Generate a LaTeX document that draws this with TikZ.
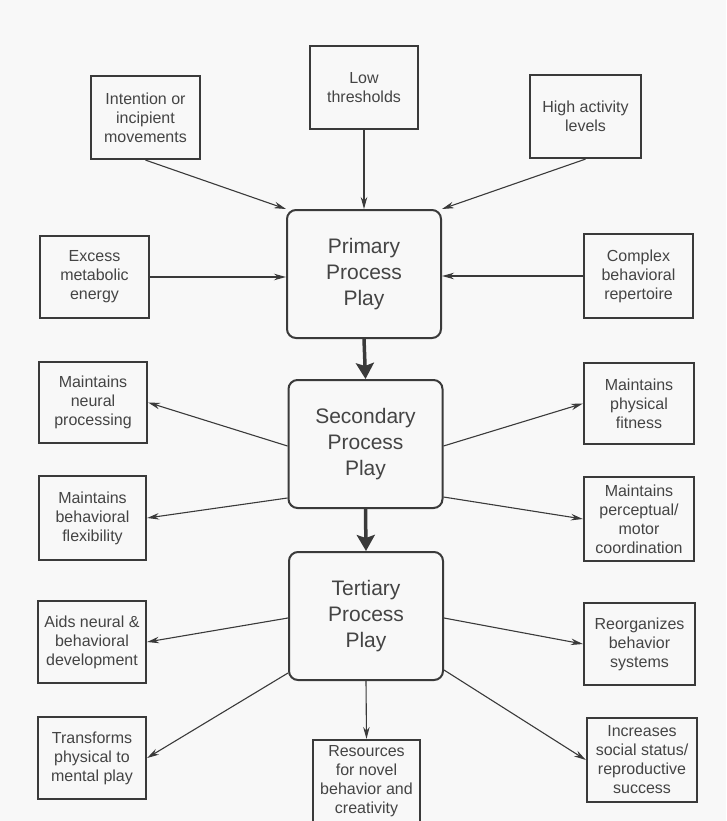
\documentclass[tikz,border=0pt]{standalone}
\usepackage{fontspec}
\setmainfont{Liberation Sans}
\usetikzlibrary{arrows.meta}
\definecolor{ink}{HTML}{3A3A3A}
\definecolor{txt}{HTML}{444444}
\definecolor{paper}{HTML}{F8F8F8}
\begin{document}
\begin{tikzpicture}[x=1pt,y=-1pt,
  outer/.style={draw=ink, line width=2.2pt, text=txt, align=center,
    font=\fontsize{16}{19}\selectfont, inner sep=0pt},
  central/.style={draw=ink, line width=2pt, rounded corners=9pt, text=txt, align=center,
    font=\fontsize{21}{26}\selectfont, minimum width=154pt, minimum height=128pt, inner sep=0pt},
  thinarrow/.style={draw=ink, line width=1.1pt, -{Stealth[length=12pt,width=6.5pt]}},
  thickarrow/.style={draw=ink, line width=3.5pt, -{Stealth[length=16pt,width=18pt,inset=3pt]}}]
\fill[paper] (0,0) rectangle (726,821);
\useasboundingbox (0,0) rectangle (726,821);

% central boxes
\node[central] (prim) at (364,274) {Primary\\Process\\Play};
\node[central] (sec) at (365.5,444) {Secondary\\Process\\Play};
\node[central] (tert) at (366,616) {Tertiary\\Process\\Play};

% inputs
\node[outer, minimum width=109pt, minimum height=83pt] (intent) at (145.5,117.5) {Intention or\\incipient\\movements};
\node[outer, minimum width=108pt, minimum height=83pt] (low) at (364,87.5) {Low\\thresholds};
\node[outer, minimum width=111pt, minimum height=83pt] (high) at (585.5,116.5) {High activity\\levels};
\node[outer, minimum width=109pt, minimum height=82pt] (excess) at (94.5,277) {Excess\\metabolic\\energy};
\node[outer, minimum width=109pt, minimum height=84pt] (complex) at (638.5,276) {Complex\\behavioral\\repertoire};

% secondary outputs
\node[outer, minimum width=108pt, minimum height=81pt] (neural) at (93,402.5) {Maintains\\neural\\processing};
\node[outer, minimum width=110pt, minimum height=81pt] (fitness) at (639,403.5) {Maintains\\physical\\fitness};
\node[outer, minimum width=107pt, minimum height=84pt] (flex) at (92.5,518) {Maintains\\behavioral\\flexibility};
\node[outer, minimum width=110pt, minimum height=84pt] (percept) at (639,519) {Maintains\\perceptual/\\motor\\coordination};

% tertiary outputs
\node[outer, minimum width=108pt, minimum height=82pt] (aids) at (92,642) {Aids neural \&\\behavioral\\development};
\node[outer, minimum width=111pt, minimum height=82pt] (reorg) at (639.5,644) {Reorganizes\\behavior\\systems};
\node[outer, minimum width=108pt, minimum height=82pt] (transf) at (92,758) {Transforms\\physical to\\mental play};
\node[outer, minimum width=107pt, minimum height=82pt] (res) at (366.5,781) {Resources\\for novel\\behavior and\\creativity};
\node[outer, minimum width=110pt, minimum height=84pt] (incr) at (642,760) {Increases\\social status/\\reproductive\\success};

% input arrows
\draw[thinarrow] (intent.south) -- (prim.north west);
\draw[thinarrow] (low.south) -- (prim.north);
\draw[thinarrow] (high.south) -- (prim.north east);
\draw[thinarrow] (excess.east) -- (excess.east -| prim.west);
\draw[thinarrow] (complex.west) -- (complex.west -| prim.east);

% main flow
\draw[thickarrow] (prim.south) -- (sec.north);
\draw[thickarrow] (sec.south) -- (tert.north);

% secondary outputs
\draw[thinarrow] ([yshift=-2pt]sec.west) -- (neural.east);
\draw[thinarrow] ([yshift=-54pt]sec.west) -- (flex.east);
\draw[thinarrow] ([yshift=-2pt]sec.east) -- (fitness.west);
\draw[thinarrow] ([yshift=-53pt]sec.east) -- (percept.west);

% tertiary outputs
\draw[thinarrow] ([yshift=-2pt]tert.west) -- (aids.east);
\draw[thinarrow] ([yshift=-2pt]tert.east) -- (reorg.west);
\draw[thinarrow] ([yshift=-57pt]tert.west) -- (transf.east);
\draw[thinarrow] (tert.south) -- (res.north);
\draw[thinarrow] ([yshift=-54pt]tert.east) -- (incr.west);
\end{tikzpicture}
\end{document}
